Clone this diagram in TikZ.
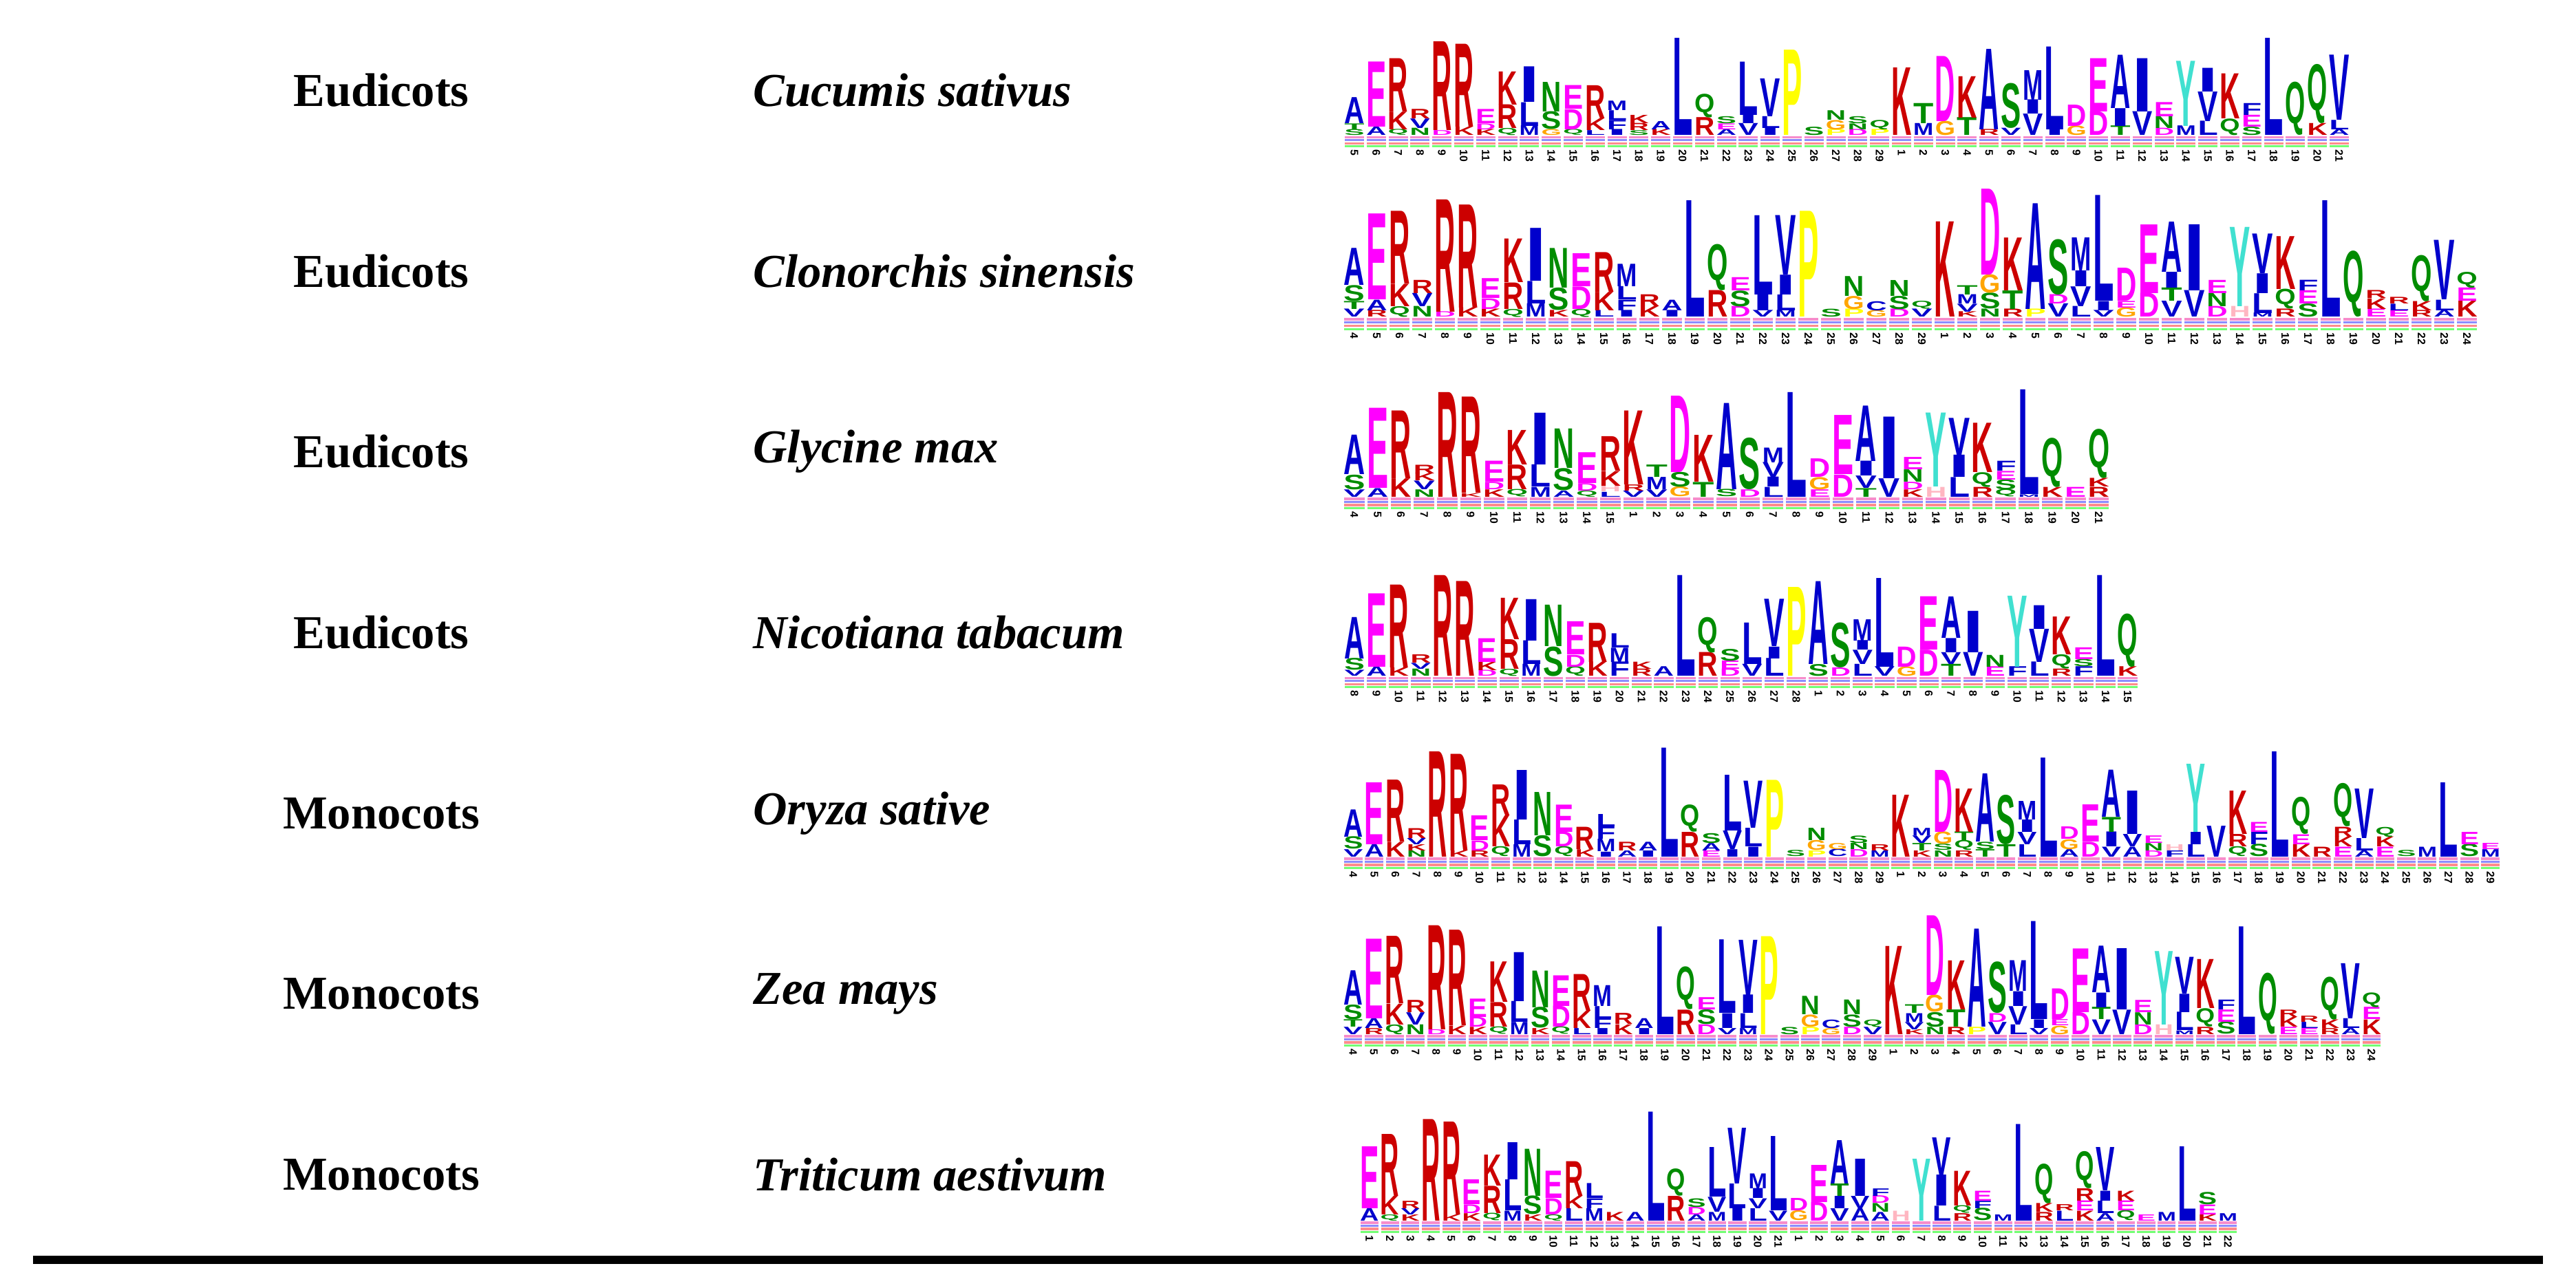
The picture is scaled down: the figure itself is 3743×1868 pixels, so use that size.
\documentclass[tikz,border=0pt]{standalone}
\usepackage{fontspec}
\usepackage{graphicx}
\setmainfont{Liberation Serif}
\newfontfamily\logofont{Liberation Sans}
\definecolor{lcA}{RGB}{0,0,204}\definecolor{lcI}{RGB}{0,0,204}\definecolor{lcL}{RGB}{0,0,204}
\definecolor{lcM}{RGB}{0,0,204}\definecolor{lcF}{RGB}{0,0,204}\definecolor{lcV}{RGB}{0,0,204}
\definecolor{lcW}{RGB}{0,0,204}\definecolor{lcC}{RGB}{0,0,204}
\definecolor{lcR}{RGB}{204,0,0}\definecolor{lcK}{RGB}{204,0,0}
\definecolor{lcE}{RGB}{255,0,255}\definecolor{lcD}{RGB}{255,0,255}
\definecolor{lcN}{RGB}{0,140,0}\definecolor{lcQ}{RGB}{0,140,0}\definecolor{lcS}{RGB}{0,140,0}\definecolor{lcT}{RGB}{0,140,0}
\definecolor{lcG}{RGB}{255,165,0}\definecolor{lcP}{RGB}{255,255,0}
\definecolor{lcY}{RGB}{64,224,208}\definecolor{lcH}{RGB}{255,182,193}
\newcommand\LS[4]{\xdef\Lx{#1}\xdef\Lb{#2}\xdef\Lw{#3}\xdef\LH{#4}\xdef\Li{0}}
\newcommand\C[2]{%
  \pgfmathsetmacro\cx{\Lx+\Li*\Lw}\xdef\cx{\cx}%
  \foreach \k [count=\j from 0] in {green!55,red!45,blue!45,magenta!45}{%
    \fill[\k] (\cx+0.06*\Lw, \Lb-\j*0.025*\LH) rectangle (\cx+0.94*\Lw, \Lb-\j*0.025*\LH-0.018*\LH);}%
  \pgfmathsetmacro\ya{\Lb-0.1*\LH}\xdef\ya{\ya}%
  \foreach \l/\h in {#2}{%
    \pgfmathsetmacro\hh{\h*\LH}%
    \pgfmathsetmacro\wc{0.0092*\Lw}\pgfmathsetmacro\hc{0.01*\hh}%
    \node[inner sep=0,outer sep=0,anchor=south west] at (\cx+0.04*\Lw,\ya)
      {\color{lc\l}\resizebox*{\wc cm}{\hc cm}{\logofont\bfseries\l}};%
    \pgfmathsetmacro\ny{\ya-\hh}\xdef\ya{\ny}}%
  \node[num] at (\cx+0.5*\Lw,\Lb+3) {#1};%
  \pgfmathtruncatemacro\ni{\Li+1}\xdef\Li{\ni}}
\newcommand\RowB{%
\C{4}{V/.06,T/.06,S/.12,A/.28}\C{5}{R/.05,A/.08,E/.65}\C{6}{Q/.08,K/.17,R/.55}\C{7}{N/.08,V/.1,R/.1}
\C{8}{D/.04,R/.85}\C{9}{K/.07,R/.78}\C{10}{K/.06,D/.08,E/.15}\C{11}{Q/.06,R/.2,K/.33}
\C{12}{M/.1,L/.17,I/.4}\C{13}{K/.05,S/.17,N/.3}\C{14}{Q/.06,D/.17,E/.25}\C{15}{L/.05,K/.14,R/.3}
\C{16}{I/.05,F/.08,L/.1,M/.17}\C{17}{K/.08,R/.09}\C{18}{I/.05,A/.08}\C{19}{L/.88}
\C{20}{R/.2,Q/.35}\C{21}{D/.08,S/.12,E/.1}\C{22}{V/.05,I/.12,L/.6}\C{23}{M/.05,L/.12,I/.15,V/.45}
\C{24}{P/.8}\C{25}{S/.06}\C{26}{P/.06,G/.1,N/.15}\C{27}{G/.05,C/.07}\C{28}{D/.06,S/.1,N/.12}\C{29}{V/.06,Q/.06}
\C{1}{K/.72}\C{2}{K/.04,V/.06,M/.07,T/.07}\C{3}{N/.06,S/.12,G/.14,D/.65}\C{4}{R/.06,T/.14,K/.4}
\C{5}{P/.06,A/.8}\C{6}{V/.1,D/.07,S/.42}\C{7}{L/.08,V/.15,I/.12,M/.25}\C{8}{V/.05,I/.07,L/.8}
\C{9}{G/.07,E/.05,D/.25}\C{10}{D/.18,E/.52}\C{11}{V/.12,T/.1,I/.12,A/.38}\C{12}{V/.2,I/.5}
\C{13}{D/.08,N/.1,E/.1}\C{14}{H/.08,Y/.6}\C{15}{M/.03,L/.15,I/.15,V/.3}\C{16}{R/.06,Q/.15,K/.4}
\C{17}{S/.1,E/.1,F/.08}\C{18}{L/.88}\C{19}{Q/.5}\C{20}{E/.06,K/.08,R/.06}\C{21}{E/.05,L/.05,R/.05}
\C{22}{R/.05,K/.07,Q/.35}\C{23}{A/.05,L/.08,V/.45}\C{24}{K/.12,E/.1,Q/.12}}
\begin{document}
\begin{tikzpicture}[x=0.01cm,y=-0.01cm,
  grp/.style={font=\fontsize{19.5}{23}\selectfont\bfseries,anchor=center},
  sp/.style={font=\fontsize{19.5}{23}\selectfont\bfseries\itshape,anchor=west},
  num/.style={font=\fontsize{4.5}{5}\selectfont\logofont\bfseries,rotate=-90,anchor=west,inner sep=0}]
\useasboundingbox[fill=white] (0,0) rectangle (3743,1868);
\foreach \g/\s/\y/\n in {Eudicots/Cucumis sativus/131/1,Eudicots/Clonorchis sinensis/394/2,
  Eudicots/Glycine max/656/3,Eudicots/Nicotiana tabacum/919/4,Monocots/Oryza sative/1182/5,
  Monocots/Zea mays/1444/6,Monocots/Triticum aestivum/1707/7}{
  \node[grp] (g\n) at (554,\y) {\g};
  \node[sp] (s\n) at (1082,\y) {\s};}
% Row 1
\LS{1952}{214}{31.8}{172}
\C{5}{S/.05,T/.05,A/.22}\C{6}{A/.07,E/.55}\C{7}{Q/.05,K/.15,R/.45}\C{8}{N/.06,V/.08,R/.08}
\C{9}{D/.04,R/.75}\C{10}{K/.07,R/.7}\C{11}{K/.05,D/.05,E/.12}\C{12}{Q/.06,R/.2,K/.28}
\C{13}{M/.08,L/.2,I/.3}\C{14}{G/.05,S/.15,N/.25}\C{15}{Q/.05,D/.17,E/.2}\C{16}{L/.04,K/.1,R/.28}
\C{17}{I/.05,F/.08,L/.08,M/.08}\C{18}{S/.04,R/.06,K/.07}\C{19}{K/.05,A/.07}\C{20}{L/.82}
\C{21}{R/.15,Q/.2}\C{22}{A/.05,E/.05,S/.06}\C{23}{V/.1,I/.07,L/.45}\C{24}{I/.06,L/.1,V/.32}
\C{25}{P/.72}\C{26}{S/.07}\C{27}{P/.05,G/.08,N/.08}\C{28}{D/.05,N/.05,S/.06}\C{29}{P/.05,Q/.08}
\C{1}{K/.57}\C{2}{M/.1,T/.17}\C{3}{G/.12,D/.55}\C{4}{T/.15,K/.35}\C{5}{R/.05,A/.68}
\C{6}{V/.06,S/.38}\C{7}{V/.18,I/.12,M/.25}\C{8}{I/.05,L/.7}\C{9}{G/.08,D/.18}\C{10}{D/.2,E/.45}
\C{11}{T/.08,I/.15,A/.45}\C{12}{V/.2,I/.45}\C{13}{D/.06,N/.1,E/.12}\C{14}{M/.08,Y/.55}
\C{15}{L/.12,V/.25,I/.2}\C{16}{Q/.14,K/.38}\C{17}{S/.07,E/.1,F/.1}\C{18}{L/.82}\C{19}{Q/.45}
\C{20}{K/.1,Q/.5}\C{21}{A/.05,L/.08,V/.55}
% Row 2
\LS{1951}{480}{33}{192}
\RowB
% Row 3
\LS{1951}{740}{33.8}{179}
\C{4}{V/.06,S/.12,A/.32}\C{5}{A/.07,E/.65}\C{6}{K/.15,R/.55}\C{7}{N/.06,V/.07,K/.06,R/.07}
\C{8}{R/.85}\C{9}{K/.03,R/.78}\C{10}{K/.06,D/.06,E/.17}\C{11}{Q/.06,R/.2,K/.28}
\C{12}{M/.08,L/.18,I/.42}\C{13}{A/.05,S/.18,N/.32}\C{14}{Q/.05,D/.06,E/.25}\C{15}{L/.04,H/.05,K/.12,R/.28}
\C{1}{V/.05,R/.05,K/.6}\C{2}{V/.06,M/.1,T/.1}\C{3}{G/.08,S/.12,D/.62}\C{4}{T/.12,K/.38}
\C{5}{S/.06,A/.7}\C{6}{D/.06,S/.42}\C{7}{L/.08,I/.08,V/.12,M/.12}\C{8}{L/.85}
\C{9}{E/.06,G/.1,D/.15}\C{10}{D/.18,E/.48}\C{11}{T/.07,V/.1,I/.12,A/.45}\C{12}{V/.15,I/.5}
\C{13}{K/.06,D/.06,N/.1,E/.1}\C{14}{H/.08,Y/.6}\C{15}{L/.16,I/.18,V/.3}\C{16}{R/.08,Q/.12,K/.4}
\C{17}{Q/.06,S/.08,E/.07,F/.08}\C{18}{M/.02,L/.85}\C{19}{K/.08,Q/.4}\C{20}{E/.08}\C{21}{R/.08,K/.07,Q/.4}
% Row 4
\LS{1952}{1000}{32.1}{172}
\C{8}{V/.05,S/.1,A/.35}\C{9}{A/.08,E/.62}\C{10}{K/.07,R/.7}\C{11}{N/.06,V/.05,R/.07}
\C{12}{R/.85}\C{13}{R/.8}\C{14}{D/.05,K/.07,E/.2}\C{15}{Q/.06,R/.25,K/.35}
\C{16}{M/.1,L/.2,I/.35}\C{17}{S/.25,N/.35}\C{18}{Q/.08,D/.1,E/.28}\C{19}{K/.12,R/.33}
\C{20}{F/.12,M/.12,L/.12}\C{21}{R/.06,K/.06}\C{22}{A/.08}\C{23}{L/.85}
\C{24}{R/.2,Q/.3}\C{25}{D/.06,E/.07,S/.1}\C{26}{V/.1,L/.35}\C{27}{L/.15,I/.1,V/.4}\C{28}{P/.75}
\C{1}{S/.1,A/.7}\C{2}{D/.07,S/.38}\C{3}{L/.1,V/.12,I/.08,M/.18}\C{4}{V/.08,L/.75}
\C{5}{G/.08,D/.17}\C{6}{D/.22,E/.45}\C{7}{T/.1,V/.1,I/.12,A/.35}\C{8}{V/.2,I/.35}
\C{9}{E/.08,N/.1}\C{10}{F/.08,Y/.6}\C{11}{L/.12,V/.28,I/.2}\C{12}{R/.06,Q/.12,K/.32}
\C{13}{F/.08,S/.06,E/.1}\C{14}{L/.85}\C{15}{K/.08,Q/.45}
% Row 5
\LS{1951}{1263}{30.6}{180}
\C{4}{V/.06,S/.1,A/.22}\C{5}{A/.1,E/.5}\C{6}{K/.12,R/.5}\C{7}{N/.05,K/.05,V/.05,R/.08}
\C{8}{R/.85}\C{9}{K/.05,R/.78}\C{10}{R/.05,D/.08,E/.2}\C{11}{Q/.08,K/.25,R/.25}
\C{12}{M/.1,L/.2,I/.4}\C{13}{S/.17,N/.35}\C{14}{Q/.08,D/.12,E/.22}\C{15}{K/.06,R/.18}
\C{16}{I/.04,M/.1,F/.1,L/.1}\C{17}{A/.05,R/.07}\C{18}{I/.05,A/.07}\C{19}{L/.88}
\C{20}{R/.2,Q/.22}\C{21}{E/.05,A/.06,S/.08}\C{22}{I/.06,V/.15,L/.45}\C{23}{I/.08,L/.15,V/.38}
\C{24}{P/.62}\C{25}{S/.05}\C{26}{P/.05,G/.08,N/.1}\C{27}{C/.06,G/.05}\C{28}{D/.06,N/.05,S/.06}\C{29}{M/.05,R/.05}
\C{1}{K/.5}\C{2}{K/.05,T/.06,V/.06,M/.06}\C{3}{N/.05,S/.05,G/.1,D/.5}\C{4}{R/.05,Q/.08,T/.07,K/.35}
\C{5}{T/.06,S/.06,A/.55}\C{6}{T/.1,S/.4}\C{7}{L/.1,V/.1,I/.1,M/.15}\C{8}{L/.8}
\C{9}{A/.06,G/.08,D/.1}\C{10}{D/.12,E/.3}\C{11}{V/.08,I/.12,T/.12,A/.38}\C{12}{A/.08,V/.1,I/.35}
\C{13}{D/.05,N/.06,E/.06}\C{14}{F/.05,H/.05}\C{15}{L/.1,I/.1,Y/.55}\C{16}{V/.25}
\C{17}{Q/.08,R/.1,K/.35}\C{18}{S/.1,F/.1,E/.08}\C{19}{L/.85}\C{20}{K/.1,E/.08,Q/.3}\C{21}{R/.08}
\C{22}{E/.08,K/.08,R/.08,Q/.35}\C{23}{A/.05,L/.1,V/.4}\C{24}{E/.08,K/.08,Q/.08}\C{25}{S/.05}
\C{26}{M/.08}\C{27}{L/.6}\C{28}{S/.1,E/.1}\C{29}{M/.06,E/.05}
% Row 6
\LS{1951}{1521}{30.2}{178}
\RowB
% Row 7
\LS{1975}{1792}{29.7}{180}
\C{1}{A/.1,E/.5}\C{2}{Q/.05,K/.15,R/.5}\C{3}{K/.05,V/.05,R/.06}\C{4}{R/.82}\C{5}{K/.05,R/.75}
\C{6}{K/.06,D/.07,E/.2}\C{7}{Q/.06,R/.22,K/.25}\C{8}{M/.08,L/.25,I/.3}\C{9}{K/.05,S/.15,N/.38}
\C{10}{Q/.05,D/.13,E/.22}\C{11}{L/.1,K/.1,R/.28}\C{12}{M/.1,F/.08,L/.12}\C{13}{K/.07}\C{14}{A/.07}
\C{15}{L/.88}\C{16}{R/.2,Q/.22}\C{17}{A/.05,D/.06,S/.07}\C{18}{M/.07,V/.12,L/.4}\C{19}{I/.1,L/.2,V/.45}
\C{20}{L/.1,V/.08,I/.08,M/.12}\C{21}{V/.08,L/.6}
\C{1}{G/.08,D/.1}\C{2}{D/.15,E/.3}\C{3}{V/.1,I/.1,T/.1,A/.35}\C{4}{A/.1,V/.1,I/.3}
\C{5}{A/.07,N/.07,D/.06,F/.06}\C{6}{H/.08}\C{7}{Y/.5}\C{8}{L/.12,I/.25,V/.3}\C{9}{R/.06,Q/.06,K/.28}
\C{10}{S/.1,F/.06,E/.08}\C{11}{M/.05}\C{12}{L/.78}\C{13}{R/.07,K/.07,Q/.32}\C{14}{L/.08,R/.05}
\C{15}{K/.08,E/.08,R/.1,Q/.3}\C{16}{A/.06,L/.1,I/.08,V/.35}\C{17}{Q/.08,E/.08,K/.08}\C{18}{E/.05}
\C{19}{M/.07}\C{20}{L/.6}\C{21}{K/.05,E/.08,S/.1}\C{22}{M/.06}
% bottom rule
\coordinate (bl) at (48,1831);
\coordinate (br) at (3695,1831);
\draw[line width=0.12cm] (bl) -- (br);
\end{tikzpicture}
\end{document}
